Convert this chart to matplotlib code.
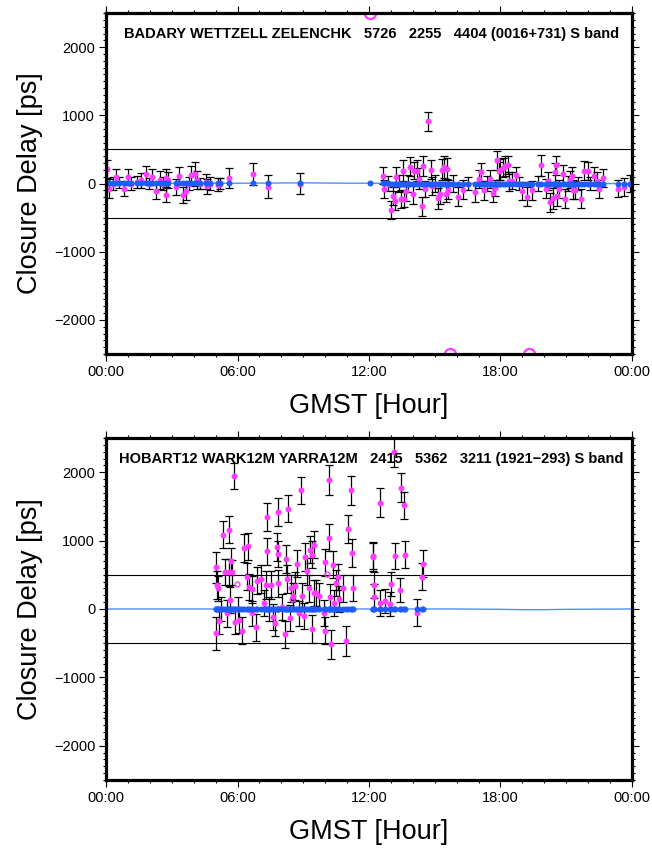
import matplotlib
matplotlib.use("Agg")
import matplotlib.pyplot as plt
from matplotlib.ticker import FixedLocator, MultipleLocator
import numpy as np

plt.rcParams["font.family"] = ["Liberation Sans", "DejaVu Sans"]

PINK = "#ff3cff"
BLUE = "#1f5cff"
LINE = "#4f8dff"
YLIM = 2500

HOUR_TICKS = [0, 6, 12, 18, 24]
HOUR_LABELS = ["00:00", "06:00", "12:00", "18:00", "00:00"]
DELAY_TICKS = [-2000, -1000, 0, 1000, 2000]
BOUNDS = [-500, 500]

TOP_TITLE = "BADARY WETTZELL ZELENCHK   5726   2255   4404 (0016+731) S band"
BOTTOM_TITLE = "HOBART12 WARK12M YARRA12M   2415   5362   3211 (1921\u2212293) S band"

# top baseline triangle: GMST hour, closure delay, 1-sigma (ps), model delay
top_hours = [
    0.03, 0.15, 0.30, 0.44, 0.60, 0.82, 0.99, 1.13, 1.40, 1.61, 1.82, 1.98, 2.10, 2.28, 2.47,
    2.60, 2.74, 2.75, 2.82, 3.19, 3.34, 3.51, 3.63, 3.80, 3.90, 4.05, 4.16, 4.30, 4.56, 4.62,
    4.75, 5.12, 5.20, 5.61, 6.72, 7.41, 8.83, 12.05,
    12.66, 12.69, 12.85, 13.00, 13.09, 13.18, 13.24, 13.35, 13.45, 13.57, 13.60, 13.68, 13.80,
    13.87, 14.03, 14.07, 14.21, 14.30, 14.42, 14.48, 14.57, 14.71, 14.82, 14.88, 15.00, 15.15,
    15.24, 15.33, 15.43, 15.50, 15.55, 15.62, 15.70, 15.85, 16.06, 16.27, 16.50, 16.82, 17.00,
    17.12, 17.27, 17.40, 17.52, 17.64, 17.75, 17.85, 17.91, 18.00, 18.10, 18.22, 18.34, 18.40,
    18.52, 18.73, 18.85, 19.00, 19.22, 19.30, 19.46, 19.70, 19.86, 20.07, 20.16, 20.25, 20.40,
    20.50, 20.53, 20.59, 20.69, 20.86, 20.96, 21.10, 21.19, 21.25, 21.31, 21.40, 21.55, 21.68,
    21.80, 21.99, 22.10, 22.26, 22.41, 22.50, 22.68, 23.37, 23.63, 23.93,
]
top_delay = [
    215, -78, 0, 98, 10, -78, 98, 0, 20, 49, 147, 0, 93, -103, 49,
    0, 83, -166, 49, -49, 118, -166, -113, 0, 122, 142, 49, 0, 25, -39,
    0, -15, 0, 83, 142, -44, 0, 2800,
    117, -78, 0, -392, -186, -250, 98, 0, -225, 191, -225, -113, 0,
    245, -157, 191, 191, 74, -333, 255, -78, 911, 206, -39, 0, -216,
    -147, 206, 240, -147, 220, -88, -2700, 0, -196, -88, 0, -127, 69,
    167, -98, 0, 69, -137, -64, 343, 181, 206, 230, 255, 274, 34,
    44, 122, 0, -113, -196, -2650, -98, 0, 265, -78, 34, -274, -216,
    167, 265, -186, -78, 137, -220, 0, 59, 118, -88, -98, 0, -225,
    186, 186, 0, 118, 39, -78, 83, -74, -49, 0,
]
top_sigma = [
    130, 140, 90, 110, 80, 110, 120, 100, 90, 110, 110, 80, 120, 130, 130,
    100, 130, 110, 120, 120, 130, 120, 130, 90, 130, 180, 130, 80, 110, 110,
    90, 100, 80, 150, 160, 170, 160, 0,
    130, 130, 110, 130, 130, 140, 150, 120, 130, 150, 120, 140, 120,
    140, 140, 130, 150, 150, 140, 150, 120, 140, 140, 130, 120, 150,
    150, 150, 160, 130, 150, 140, 0, 120, 140, 140, 100, 140, 130,
    130, 140, 110, 130, 130, 120, 140, 130, 150, 140, 150, 130, 140,
    130, 120, 100, 130, 140, 0, 140, 110, 150, 140, 130, 140, 150,
    140, 140, 140, 130, 130, 140, 110, 130, 130, 140, 130, 100, 140,
    140, 130, 100, 130, 130, 130, 130, 120, 130, 120,
]
top_model = [
    5, 5, 5, 5, 5, 5, 5, 5, 5, 5, 5, 5, 5, 5, 5,
    5, 5, 5, 5, 5, 5, 5, 5, 5, 5, 5, 5, 5, 5, 5,
    5, 5, 5, 5, 5, 5, 5, 5,
    5, 5, 5, 0, 0, 0, 0, 0, 0, 0, 0, 0, 0,
    0, 0, 0, 0, 0, 0, 0, 0, 0, 0, 0, 0, 0,
    0, 0, 0, 0, 0, 0, 0, 0, 0, 0, 0, 0, 0,
    0, 0, 0, 0, 0, 0, 0, 0, 0, 0, 0, 0, 0,
    0, 0, 0, 0, 0, 0, 0, 0, 0, 0, 0, 0, 0,
    0, 0, 0, 0, 0, 0, 0, 0, 0, 0, 0, 0, 0,
    0, 0, 0, 0, 0, 0, 0, 0, 0, 0,
]
top_curve_hours = [0, 3, 6, 9, 11, 12, 14, 16, 18, 20, 22, 24]
top_curve = [5, 5, 5, 10, 5, 5, 0, 0, 0, 0, 0, 0]

# bottom baseline triangle
bot_hours = [
    5.02, 5.02, 5.08, 5.11, 5.17, 5.25, 5.33, 5.45, 5.51, 5.63, 5.63, 5.66, 5.72, 5.75, 5.84,
    5.88, 6.00, 6.08, 6.20, 6.29, 6.44, 6.50, 6.53, 6.65, 6.68, 6.86, 6.89, 7.07, 7.19, 7.28,
    7.34, 7.34, 7.45, 7.53, 7.60, 7.72, 7.78, 7.83, 7.87, 7.87, 8.05, 8.17, 8.20, 8.26, 8.29,
    8.38, 8.43, 8.54, 8.63, 8.73, 8.80, 8.90, 8.92, 9.04, 9.10, 9.18, 9.28, 9.33, 9.40, 9.40,
    9.47, 9.51, 9.59, 9.71, 9.94, 9.98, 10.01, 10.16, 10.19, 10.24, 10.27, 10.34, 10.39, 10.50,
    10.57, 10.65, 10.80, 10.96, 11.02, 11.17, 11.23, 11.29, 12.17, 12.20, 12.23, 12.23, 12.52,
    12.52, 12.75, 12.95, 13.02, 13.16, 13.17, 13.42, 13.48, 13.60, 13.66, 14.19, 14.42, 14.45,
]
bot_delay = [
    -358, 607, 353, 304, -176, 0, 1088, 534, -64, 1161, 534, 132, 696, 534, 1945,
    -186, 0, -162, -318, 892, 473, 917, 328, -64, 289, -269, 416, 436, 83, 353,
    1347, 843, 0, 353, -113, -201, 907, 809, 1416, 377, 34, -372, 730, 436, 1465,
    -137, 304, 191, 338, 661, -64, 1735, 191, -98, 760, 549, 304, 867, 794, -294,
    230, 941, 240, 191, -64, -318, 681, 1886, 1043, 171, -519, 647, 83, 387,
    465, 142, 304, -470, 1171, 1735, 818, 304, 760, 779, 353, 171, 1553,
    93, 118, 74, 367, 2298, 769, 279, 1774, 1514, 794, -54, 473, 661,
]
bot_sigma = [
    240, 220, 200, 180, 190, 180, 200, 190, 200, 200, 200, 190, 200, 180, 190,
    180, 170, 190, 200, 200, 200, 200, 190, 180, 200, 200, 200, 200, 190, 200,
    200, 200, 180, 200, 190, 190, 200, 190, 200, 200, 190, 200, 200, 200, 200,
    190, 200, 190, 200, 200, 180, 200, 190, 190, 200, 200, 200, 200, 200, 200,
    190, 200, 190, 190, 190, 200, 200, 220, 200, 200, 210, 200, 190, 190,
    190, 190, 200, 220, 200, 210, 200, 190, 200, 200, 190, 190, 210,
    190, 180, 180, 180, 220, 190, 180, 210, 200, 200, 200, 200, 200,
]
bot_model = [
    0, 0, 0, 0, 0, 0, 0, 0, 0, 0, 0, 0, 0, 0, 0,
    0, 0, 0, 0, 0, 0, 0, 0, 0, 0, 0, 0, 0, 0, 0,
    0, 0, 0, 0, 0, 0, 0, 0, 0, 0, 0, 0, 0, 0, 0,
    0, 0, 0, 0, 0, 0, 0, 0, 0, 0, 0, 0, 0, 0, 0,
    0, 0, 0, 0, 0, 0, 0, 0, 0, 0, 0, 0, 0, 0,
    0, 0, 0, 0, 0, 0, 0, 0, 0, 0, 0, 0, 0,
    0, 0, 0, 0, 0, 0, 0, 0, 0, 0, 0, 0, 0,
]
bot_curve_hours = [0, 4, 8, 12, 16, 18, 19, 20, 21, 24]
bot_curve = [0, 0, 0, 0, 0, -5, -10, -10, -5, 0]
bot_flag_hours = [5.96, 8.50, 10.09]
bot_flag_delay = [367, 150, 505]


def draw_panel(ax, hours, delay, sigma, model, curve_h, curve_v, title, title_x, flag_h=(), flag_d=()):
    h = np.asarray(hours, dtype=float)
    d = np.asarray(delay, dtype=float)
    s = np.asarray(sigma, dtype=float)
    ok = np.abs(d) <= YLIM
    for b in BOUNDS:
        ax.axhline(b, color="black", lw=0.8, zorder=1)
    ax.errorbar(h[ok], d[ok], yerr=s[ok], fmt="none", ecolor="black", elinewidth=0.9,
                capsize=3, capthick=0.9, zorder=2)
    ax.plot(h[ok], d[ok], "o", color=PINK, ms=4.3, mec="none", zorder=3)
    if len(flag_h):
        ax.plot(flag_h, flag_d, "o", mfc="none", mec=PINK, ms=3.5, mew=1.0, zorder=3)
    # off-scale points: open circles sitting on the frame, half hidden
    ax.plot(h[~ok], np.clip(d[~ok], -YLIM, YLIM), "o", mfc="none", mec=PINK, ms=8,
            mew=1.6, zorder=6)
    ax.plot(curve_h, curve_v, color=LINE, lw=1.0, zorder=4)
    ax.plot(h, model, "o", color=BLUE, ms=4.3, mec="none", zorder=5)

    ax.set_xlim(0, 24)
    ax.set_ylim(-YLIM, YLIM)
    ax.xaxis.set_major_locator(FixedLocator(HOUR_TICKS))
    ax.set_xticklabels(HOUR_LABELS)
    ax.xaxis.set_minor_locator(MultipleLocator(1))
    ax.yaxis.set_major_locator(FixedLocator(DELAY_TICKS))
    ax.yaxis.set_minor_locator(MultipleLocator(100))
    ax.tick_params(which="both", direction="out", top=True, right=True, width=0.8, labelsize=10.5)
    ax.tick_params(which="major", length=4.8, pad=3)
    ax.tick_params(which="minor", length=2.5)
    for sp in ax.spines.values():
        sp.set_linewidth(2.3)
        sp.set_zorder(7)
    ax.set_xlabel("GMST [Hour]", fontsize=19.5, labelpad=10)
    ax.set_ylabel("Closure Delay [ps]", fontsize=19.5, labelpad=8)
    ax.text(title_x, 0.938, title, transform=ax.transAxes, ha="left", va="center",
            fontsize=10.5, fontweight="bold")


def main() -> int:
    fig = plt.figure(figsize=(6.52, 8.48), dpi=100)
    ax1 = fig.add_axes([0.1626, 0.5825, 0.8067, 0.4021])
    ax2 = fig.add_axes([0.1626, 0.0802, 0.8067, 0.4033])
    draw_panel(ax1, top_hours, top_delay, top_sigma, top_model, top_curve_hours, top_curve,
               TOP_TITLE, 0.034)
    draw_panel(ax2, bot_hours, bot_delay, bot_sigma, bot_model, bot_curve_hours, bot_curve,
               BOTTOM_TITLE, 0.025, bot_flag_hours, bot_flag_delay)
    fig.savefig("out.png", dpi=100)
    plt.close(fig)
    return 0


if __name__ == "__main__":
    raise SystemExit(main())
